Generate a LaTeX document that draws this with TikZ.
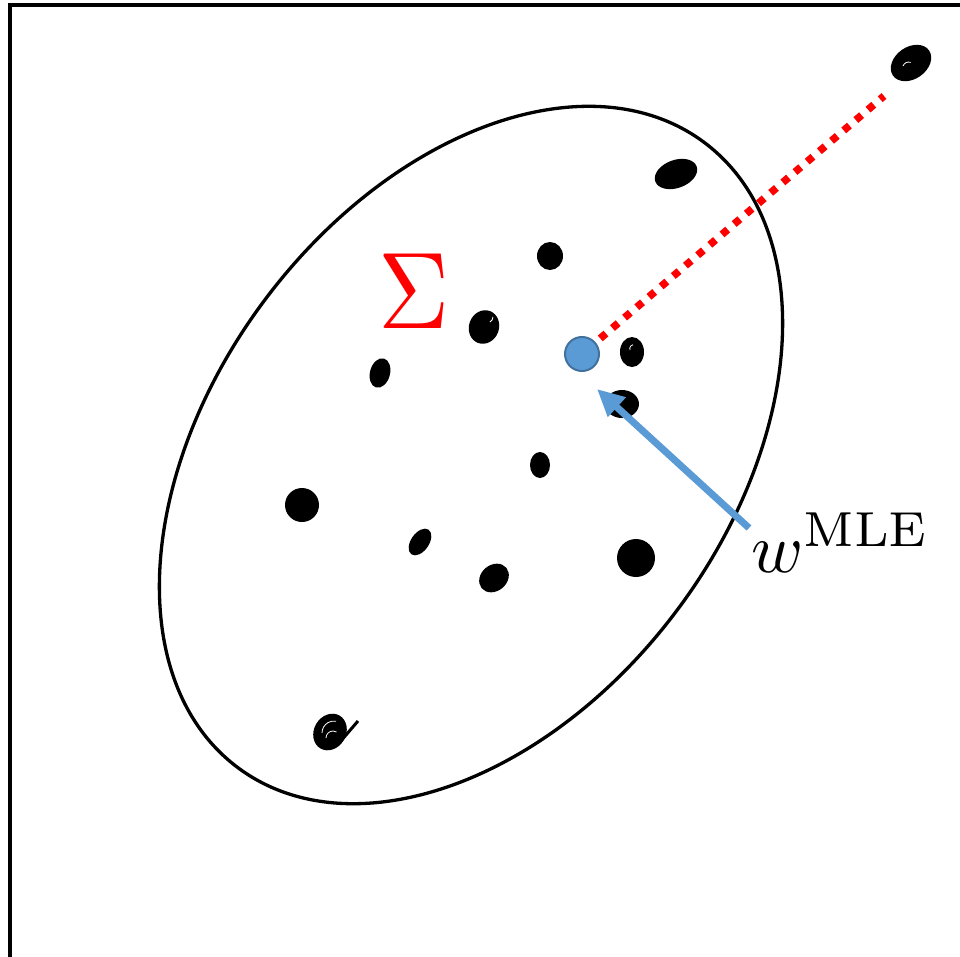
\documentclass[tikz,border=0pt]{standalone}
\usetikzlibrary{arrows.meta}
\definecolor{mleblue}{HTML}{5B9BD5}
\definecolor{mleedge}{HTML}{41719C}
\tikzset{
  frameline/.style={line width=0.04cm, line join=miter},
  sigmaell/.style={line width=0.033cm},
  blob/.style={fill=black},
  swirl/.style={white, line width=0.008cm},
  dotnode/.style={circle, fill=mleblue, draw=mleedge, line width=0.02cm, minimum size=0.34cm, inner sep=0pt},
  reddots/.style={red, line width=0.075cm, dash pattern=on 0.075cm off 0.085cm},
  bluearrow/.style={mleblue, line width=0.07cm, -{Triangle[length=0.27cm, width=0.25cm]}},
}
\begin{document}
\begin{tikzpicture}[x=0.01cm, y=-0.01cm]
\useasboundingbox (0,0) rectangle (960,957);
% frame
\draw[frameline] (960,5) -- (10,5) -- (10,957);
% covariance ellipse
\draw[sigmaell, rotate around={53.3:(471,455)}] (471,455) ellipse [x radius=390, y radius=258];
% data points (scribbled blobs)
\fill[blob, rotate around={35:(911,63)}] (911,63) ellipse [x radius=22, y radius=16];
\fill[blob, rotate around={20:(676,174)}] (676,174) ellipse [x radius=22, y radius=14];
\fill[blob] (550,256) ellipse [x radius=13, y radius=14];
\fill[blob, rotate around={-20:(484,327)}] (484,327) ellipse [x radius=15, y radius=17];
\fill[blob, rotate around={-15:(380,373)}] (380,373) ellipse [x radius=10, y radius=15];
\fill[blob] (632,352) ellipse [x radius=12, y radius=15];
\fill[blob] (622,404) ellipse [x radius=17, y radius=14];
\fill[blob] (540,465) ellipse [x radius=10, y radius=13];
\fill[blob] (302,505) ellipse [x radius=17, y radius=17];
\fill[blob, rotate around={-35:(420,542)}] (420,542) ellipse [x radius=9, y radius=15];
\fill[blob, rotate around={40:(494,578)}] (494,578) ellipse [x radius=16, y radius=13];
\fill[blob] (636,558) ellipse [x radius=19, y radius=19];
\fill[blob, rotate around={-30:(330,732)}] (330,732) ellipse [x radius=16, y radius=19];
\draw[line width=0.03cm] (340,742) -- (358,721);
% small white swirls inside the blobs
\draw[swirl] (903,66) arc[start angle=200, end angle=290, radius=6];
\draw[swirl] (630,350) arc[start angle=160, end angle=260, radius=4];
\draw[swirl] (326,738) arc[start angle=180, end angle=300, radius=7];
\draw[swirl] (322,733) arc[start angle=180, end angle=280, radius=12];
\draw[swirl] (490,322) arc[start angle=60, end angle=0, radius=6];
% MLE estimate
\node[dotnode] (mle) at (582,354) {};
\coordinate (outlier) at (884,96);
\draw[reddots, shorten <=0.06cm] (mle) -- (outlier);
\coordinate (arrowtail) at (749,528);
\coordinate (arrowtip) at (597,389);
\draw[bluearrow] (arrowtail) -- (arrowtip);
% labels
\node[anchor=base west, inner sep=0pt, scale=2] (wlabel) at (750,572) {$w^{\mathrm{MLE}}$};
\node[red, inner sep=0pt, xscale=2.8, yscale=3.1] (sigma) at (414,291) {$\Sigma$};
\end{tikzpicture}
\end{document}
